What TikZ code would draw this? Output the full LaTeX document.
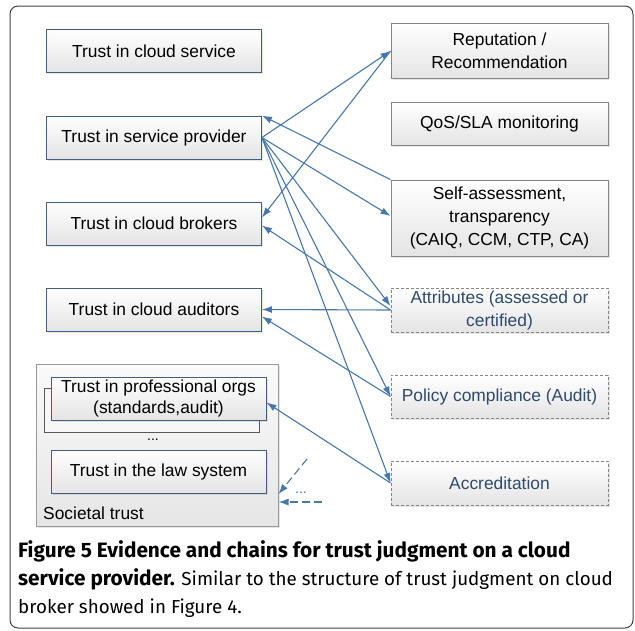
\documentclass[tikz,border=0pt]{standalone}
\usepackage{fontspec}
\setmainfont{Liberation Sans}
\newfontfamily\capfont{Fira Sans}
\usetikzlibrary{arrows.meta,shadows}

\definecolor{linkblue}{HTML}{4677B0}
\definecolor{boxedge}{HTML}{41607F}
\definecolor{evidtext}{HTML}{2E4A6E}
\definecolor{greyedge}{HTML}{858585}
\definecolor{fillbot}{HTML}{E4E4E4}

\newcommand{\capbold}[1]{{\fontsize{20.8}{28}\selectfont\bfseries #1}}

\tikzset{
  trustbox/.style={draw=boxedge, line width=0.9pt, top color=white, bottom color=fillbot,
    minimum width=215pt, minimum height=43pt, inner sep=0pt, align=center,
    font=\fontsize{17.4}{21}\selectfont,
    drop shadow={shadow xshift=1.5pt, shadow yshift=-1.5pt, opacity=0.2, fill=black!50}},
  evidbox/.style={trustbox, draw=greyedge, minimum width=217pt},
  auditbox/.style={evidbox, dash pattern=on 3pt off 2pt, text=evidtext},
  link/.style={draw=linkblue, line width=1.1pt, -{Latex[length=10pt,width=7pt]}},
  hintlink/.style={link, dash pattern=on 8pt off 4pt},
}

\begin{document}
\begin{tikzpicture}[x=1pt, y=-1pt]
  \useasboundingbox (0,0) rectangle (635,630);
  % frame
  \draw[rounded corners=8pt, draw=black!75, line width=1pt] (10,6) rectangle (633,628);

  % trust chain, left
  \node[trustbox] (cloudsvc) at (154,51) {Trust in cloud service};
  \node[trustbox] (provider) at (154,137.5) {Trust in service provider};
  \node[trustbox] (brokers) at (154,223.5) {Trust in cloud brokers};
  \node[trustbox] (auditors) at (154,309.5) {Trust in cloud auditors};

  % societal trust
  \node[draw=black!40, line width=1pt, top color=black!2, bottom color=black!10,
    minimum width=242pt, minimum height=162pt,
    drop shadow={shadow xshift=1.5pt, shadow yshift=-1.5pt, opacity=0.2, fill=black!50}]
    (societal) at (157,445) {};
  \node[draw=black!65, line width=0.9pt, fill=black!3, minimum width=215pt, minimum height=44pt]
    (orgsback) at (151.5,410) {};
  \node[trustbox, drop shadow={opacity=0}, font=\fontsize{17.4}{21}\selectfont] (orgs) at (158.5,398.5)
    {Trust in professional orgs\\(standards,audit)};
  \node[font=\fontsize{14}{16}\selectfont] (moredots) at (153,440) {...};
  \node[trustbox, drop shadow={opacity=0}] (lawsys) at (158.5,471.5) {Trust in the law system};
  \node[anchor=west, font=\fontsize{17.4}{21}\selectfont, inner sep=0pt] (socialtxt) at (43,513) {Societal trust};

  % evidence, right
  \node[evidbox, minimum height=55pt, font=\fontsize{17.4}{23}\selectfont] (reput) at (499.5,51) {Reputation /\\Recommendation};
  \node[evidbox] (qos) at (499.5,123.5) {QoS/SLA monitoring};
  \node[evidbox, minimum height=76pt, font=\fontsize{17.4}{23}\selectfont] (selfassess) at (499.5,218)
    {Self-assessment,\\transparency\\(CAIQ, CCM, CTP, CA)};
  \node[auditbox, minimum height=44pt, font=\fontsize{17.4}{23}\selectfont] (attrib) at (499.5,310) {Attributes (assessed or\\certified)};
  \node[auditbox] (policy) at (499.5,396.5) {Policy compliance (Audit)};
  \node[auditbox, minimum height=44pt] (accred) at (499.5,483) {Accreditation};

  % connectors
  \draw[link] (provider.east) -- (reput.west);
  \draw[link] (reput.west) -- ([yshift=6pt]brokers.east);
  \draw[link] (selfassess.north west) -- (provider.north east);
  \draw[link] (provider.east) -- ([yshift=2pt]selfassess.west);
  \draw[link] (provider.east) -- ([yshift=4pt]attrib.west);
  \draw[link] (provider.east) -- (policy.west);
  \draw[link] (provider.east) -- (accred.west);
  \draw[link] (attrib.west) -- ([yshift=-2pt]brokers.east);
  \draw[link] (attrib.west) -- (auditors.east);
  \draw[link] (policy.west) -- ([yshift=-7pt]auditors.east);
  \draw[link] (accred.west) -- ([yshift=-4pt]orgs.east);

  % further sources
  \coordinate (morea) at (307,459);
  \coordinate (moreb) at (322,502);
  \draw[hintlink] (morea) -- ([yshift=-49pt]societal.east);
  \draw[hintlink] (moreb) -- ([yshift=-57pt]societal.east);
  \node[text=linkblue, font=\fontsize{14}{16}\selectfont] (moretxt) at (301,493) {...};

  % caption
  \node[anchor=north west, align=left, inner sep=0pt, font=\capfont\fontsize{18.8}{28}\selectfont] (caption) at (18,540)
    {\capbold{Figure 5 Evidence and chains for trust judgment on a cloud}\\
     \capbold{service provider.} Similar to the structure of trust judgment on cloud\\
     broker showed in Figure 4.};
\end{tikzpicture}
\end{document}
